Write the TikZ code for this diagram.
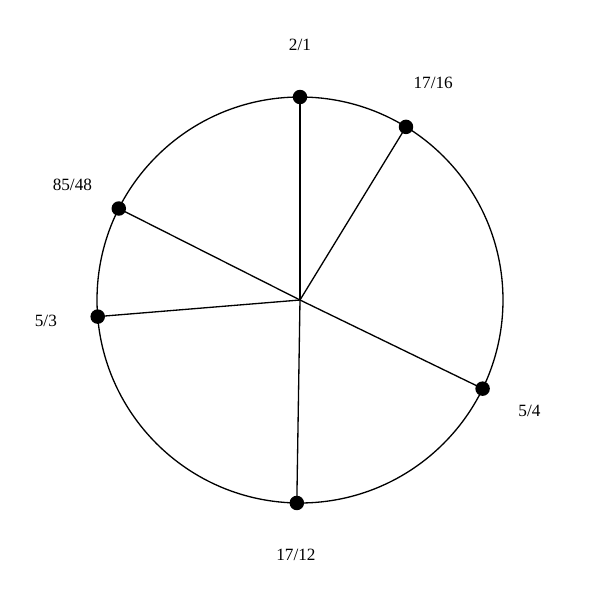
\documentclass[tikz,border=0pt]{standalone}
\usepackage{fontspec}
\setmainfont{Liberation Serif}
\usetikzlibrary{calc}
\begin{document}
\begin{tikzpicture}[x=0.02cm,y=0.02cm,
  ring/.style={draw=black,line width=0.75pt},
  spoke/.style={draw=black,line width=0.75pt},
  dotmark/.style={circle,fill=black,inner sep=0pt,minimum size=0.29cm},
  lab/.style={font=\fontsize{9.8}{11}\selectfont,inner sep=0pt}]
\useasboundingbox (0,0) rectangle (600,600);
\coordinate (c) at (300,300);
\draw[ring] (c) circle (203);
\foreach \name/\ang/\txt in {a/90/2\slash 1, b/58.52/17\slash 16, e/-25.89/5\slash 4, f/-90.90/17\slash 12, g/-175.31/5\slash 3, h/-206.79/85\slash 48}{
  \coordinate (p\name) at ($(c)+(\ang:203)$);
  \draw[spoke] (c) -- (p\name);
  \node[dotmark] (d\name) at (p\name) {};
  \node[lab] (l\name) at ($(c)+(\ang:255)$) {\txt};
}
\end{tikzpicture}
\end{document}
